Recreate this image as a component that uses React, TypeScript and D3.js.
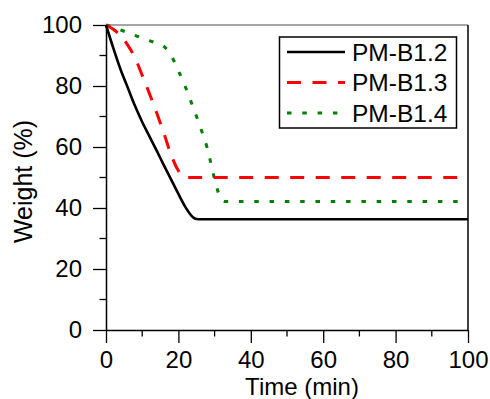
import React, { useEffect, useRef } from "react";
import * as d3 from "d3";

// --- Data ---
const seriesNames = ["PM-B1.2", "PM-B1.3", "PM-B1.4"];

const timeB12 = [0, 2, 4, 6, 8, 10, 12, 14, 16, 18, 20, 22, 24, 25, 26, 100];
const weightB12 = [100, 92.5, 85.5, 79.5, 73.5, 68.2, 63.5, 58.8, 54, 49.3, 44.6, 40.2, 37, 36.4, 36.3, 36.3];

const timeB13 = [0, 2, 4, 6, 8, 10, 12, 14, 16, 18, 20, 22, 100];
const weightB13 = [100, 98.6, 96.5, 93.4, 89.3, 83.5, 77.5, 71.2, 64.5, 57.4, 52.2, 50, 50];

const timeB14 = [0, 2, 4, 6, 8, 10, 12, 14, 16, 18, 20, 22, 24, 26, 28, 30, 32, 33, 100];
const weightB14 = [100, 99.3, 98.4, 97.5, 96.6, 95.7, 94.9, 94, 93, 90, 85, 79.5, 73.2, 66.7, 59.5, 49.5, 42.5, 42.1, 42.1];

const xTicks = [0, 20, 40, 60, 80, 100];
const yTicks = [0, 20, 40, 60, 80, 100];
const minorTicks = [10, 30, 50, 70, 90];

const App = () => {
  const svgRef = useRef(null);

  useEffect(() => {
    const svg = d3.select(svgRef.current);
    svg.selectAll("*").remove();

    const width = 490;
    const height = 399;
    const left = 106;
    const right = 468;
    const top = 25;
    const bottom = 330;
    const font = "'Liberation Sans', Arial, sans-serif";

    const x = d3.scaleLinear().domain([0, 100]).range([left, right]);
    const y = d3.scaleLinear().domain([0, 100]).range([bottom, top]);

    svg.attr("width", width).attr("height", height);

    // frame: top gray, right black
    svg
      .append("line")
      .attr("x1", left)
      .attr("x2", right)
      .attr("y1", top)
      .attr("y2", top)
      .attr("stroke", "#888")
      .attr("stroke-width", 1.5);
    svg
      .append("line")
      .attr("x1", right)
      .attr("x2", right)
      .attr("y1", top)
      .attr("y2", bottom)
      .attr("stroke", "#000")
      .attr("stroke-width", 1.5);

    // X axis
    const xAxis = svg.append("g").attr("transform", `translate(0, ${bottom})`);
    xAxis
      .call(d3.axisBottom(x).tickValues(xTicks).tickSize(13).tickPadding(8).tickSizeOuter(0))
      .call((g) => g.select(".domain").attr("stroke-width", 1.5))
      .call((g) => g.selectAll(".tick line").attr("stroke-width", 1.3))
      .call((g) =>
        g.selectAll(".tick text").attr("font-size", 24).attr("font-family", font).attr("fill", "#000")
      );
    xAxis
      .selectAll(".minor")
      .data(minorTicks)
      .join("line")
      .attr("x1", (d) => x(d))
      .attr("x2", (d) => x(d))
      .attr("y1", 0)
      .attr("y2", 6.5)
      .attr("stroke", "#000")
      .attr("stroke-width", 1.3);

    // Y axis
    const yAxis = svg.append("g").attr("transform", `translate(${left}, 0)`);
    yAxis
      .call(d3.axisLeft(y).tickValues(yTicks).tickSize(13).tickPadding(11).tickSizeOuter(0))
      .call((g) => g.select(".domain").attr("stroke-width", 1.5))
      .call((g) => g.selectAll(".tick line").attr("stroke-width", 1.3))
      .call((g) =>
        g.selectAll(".tick text").attr("font-size", 24).attr("font-family", font).attr("fill", "#000")
      );
    yAxis
      .selectAll(".minor")
      .data(minorTicks)
      .join("line")
      .attr("x1", 0)
      .attr("x2", -6.5)
      .attr("y1", (d) => y(d))
      .attr("y2", (d) => y(d))
      .attr("stroke", "#000")
      .attr("stroke-width", 1.3);

    // Axis titles
    svg
      .append("text")
      .attr("x", (left + right) / 2 + 15)
      .attr("y", 395)
      .attr("text-anchor", "middle")
      .style("font-size", "24px")
      .style("font-family", font)
      .text("Time (min)");

    svg
      .append("text")
      .attr("transform", `translate(32, ${(top + bottom) / 2 + 4}) rotate(-90)`)
      .attr("text-anchor", "middle")
      .style("font-size", "25px")
      .style("font-family", font)
      .text("Weight (%)");

    // --- Lines ---
    const series = [
      { name: seriesNames[0], t: timeB12, w: weightB12, color: "#000", dash: null, width: 2.6 },
      { name: seriesNames[1], t: timeB13, w: weightB13, color: "#ff0000", dash: "14,11.5", width: 3 },
      { name: seriesNames[2], t: timeB14, w: weightB14, color: "#008000", dash: "4.5,10.8", width: 3 },
    ];

    const line = d3
      .line()
      .x((d) => x(d[0]))
      .y((d) => y(d[1]))
      .curve(d3.curveMonotoneX);

    series
      .slice()
      .reverse()
      .forEach((s) => {
        svg
          .append("path")
          .datum(s.t.map((t, i) => [t, s.w[i]]))
          .attr("d", line)
          .attr("fill", "none")
          .attr("stroke", s.color)
          .attr("stroke-width", s.width)
          .attr("stroke-dasharray", s.dash);
      });

    // --- Legend ---
    const legend = svg.append("g");
    legend
      .append("rect")
      .attr("x", 279.5)
      .attr("y", 37)
      .attr("width", 177)
      .attr("height", 91)
      .attr("fill", "#fff")
      .attr("stroke", "#000")
      .attr("stroke-width", 1.5);

    series.forEach((s, i) => {
      const ry = 52 + i * 30.5;
      legend
        .append("line")
        .attr("x1", 287)
        .attr("x2", 345)
        .attr("y1", ry)
        .attr("y2", ry)
        .attr("stroke", s.color)
        .attr("stroke-width", s.width)
        .attr("stroke-dasharray", s.dash);
      legend
        .append("text")
        .attr("x", 352)
        .attr("y", ry)
        .attr("dy", "0.36em")
        .style("font-size", "24.5px")
        .style("font-family", font)
        .text(s.name);
    });
  }, []);

  return (
    <svg
      ref={svgRef}
      style={{ position: "absolute", left: 0, top: 0, background: "#fff" }}
    ></svg>
  );
};

export default App;
